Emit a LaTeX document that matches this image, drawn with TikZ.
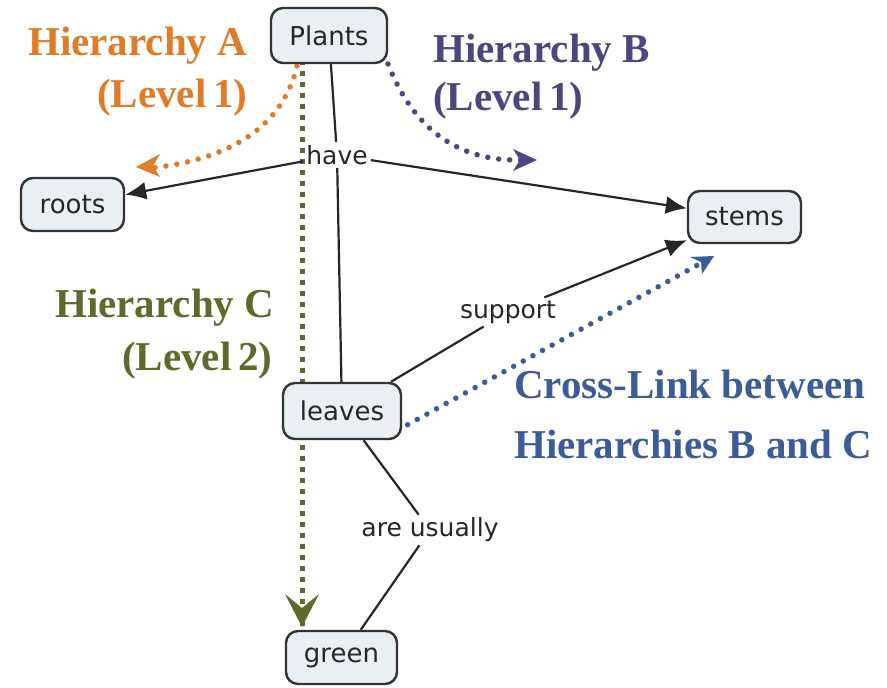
\documentclass[tikz,border=0pt]{standalone}
\usepackage{fontspec}
\setmainfont{Liberation Serif}
\newfontfamily\conceptfont{DejaVu Sans}
\usetikzlibrary{arrows.meta,calc}

\definecolor{hierA}{HTML}{E07B28}
\definecolor{hierB}{HTML}{4A4780}
\definecolor{hierC}{HTML}{5E6A2C}
\definecolor{crossblue}{HTML}{3B5C98}
\definecolor{boxfill}{HTML}{E9F0F4}
\definecolor{boxline}{HTML}{333333}

\begin{document}
\begin{tikzpicture}[x=1pt,y=-1pt,
  concept/.style={draw=boxline, line width=2.4pt, fill=boxfill,
    rounded corners=12pt, inner sep=0pt, font=\conceptfont\fontsize{26}{30}\selectfont,
    text=black!85},
  linkphrase/.style={inner sep=3pt, font=\conceptfont\fontsize{25}{29}\selectfont, text=black!85},
  link/.style={draw=black!85, line width=2.2pt},
  linkarrow/.style={link, -{Latex[length=21pt,width=18pt]}},
  hiertext/.style={anchor=base west, inner sep=0pt,
    font=\bfseries\fontsize{41}{45}\selectfont},
  dotline/.style={line width=5.5pt, line cap=round, dash pattern=on 0pt off 11pt},
  squaredots/.style={line width=5pt, dash pattern=on 5pt off 6pt},
]
\useasboundingbox (0,0) rectangle (887,688);

% end points of the hierarchy markers
\coordinate (aStart) at (297,66);
\coordinate (aTip)   at (136,167);
\coordinate (bStart) at (388,64);
\coordinate (bTip)   at (537,160);
\coordinate (cStart) at (302,60);
\coordinate (cTip)   at (302,627);
\coordinate (xStart) at (398,430);
\coordinate (xTip)   at (714,256);

% hierarchy markers, kept under the concept boxes
\draw[hierA, dotline] (aStart) .. controls (282,130) and (225,160) .. ([xshift=15pt,yshift=-1pt]aTip);
\fill[hierA] (aTip) -- ++(24,-13) -- ++(-7,12) -- ++(7,11) -- cycle;

\draw[hierB, dotline] (bStart) .. controls (410,120) and (450,162) .. ([xshift=-15pt]bTip);
\fill[hierB] (bTip) -- ++(-24,-11) -- ++(7,11) -- ++(-7,11) -- cycle;

\draw[hierC, squaredots] (cStart) -- ([yshift=-16pt]cTip);
\fill[hierC] (cTip) -- ++(-17,-33) -- ++(17,14) -- ++(17,-14) -- cycle;

\draw[crossblue, dotline] (xStart) -- ($(xTip)!17pt!(xStart)$);
\fill[crossblue] (xTip) -- ++(-24,1) -- ++(11,5) -- ++(1,12) -- cycle;

% concept boxes
\node[concept, minimum width=116pt, minimum height=55pt] (plants) at (329,35.5) {Plants};
\node[concept, minimum width=103pt, minimum height=53pt] (roots)  at (72.5,204.5) {roots};
\node[concept, minimum width=113pt, minimum height=52pt] (stems)  at (744.5,217) {stems};
\node[concept, minimum width=118pt, minimum height=56pt] (leaves) at (342,411) {leaves};
\node[concept, minimum width=111pt, minimum height=53pt] (green)  at (341.5,657.5) {green};

% linking phrases
\node[linkphrase] (have)    at (337,155) {have};
\node[linkphrase] (support) at (508,312) {support};
\node[linkphrase] (usually) at (430,530) {are usually};

% propositions
\draw[link] (plants) -- (have);
\draw[linkarrow] (have) -- (roots);
\draw[linkarrow] (have) -- (stems);
\draw[link] (have) -- (leaves);
\draw[link] (leaves) -- (support);
\draw[linkarrow] (support) -- (stems);
\draw[link] (leaves) -- (usually);
\draw[link] (usually) -- (green);

% hierarchy labels
\node[hiertext, text=hierA] (labA1) at (28,55)   {Hierarchy A};
\node[hiertext, text=hierA] (labA2) at (97,107)  {(Level\,1)};
\node[hiertext, text=hierB] (labB1) at (433,62)  {Hierarchy B};
\node[hiertext, text=hierB] (labB2) at (433,110) {(Level\,1)};
\node[hiertext, text=hierC] (labC1) at (55,317)  {Hierarchy C};
\node[hiertext, text=hierC] (labC2) at (122,370) {(Level\,2)};
\node[hiertext, text=crossblue] (labX1) at (514,398) {Cross-Link between};
\node[hiertext, text=crossblue] (labX2) at (514,458) {Hierarchies B and C};
\end{tikzpicture}
\end{document}
